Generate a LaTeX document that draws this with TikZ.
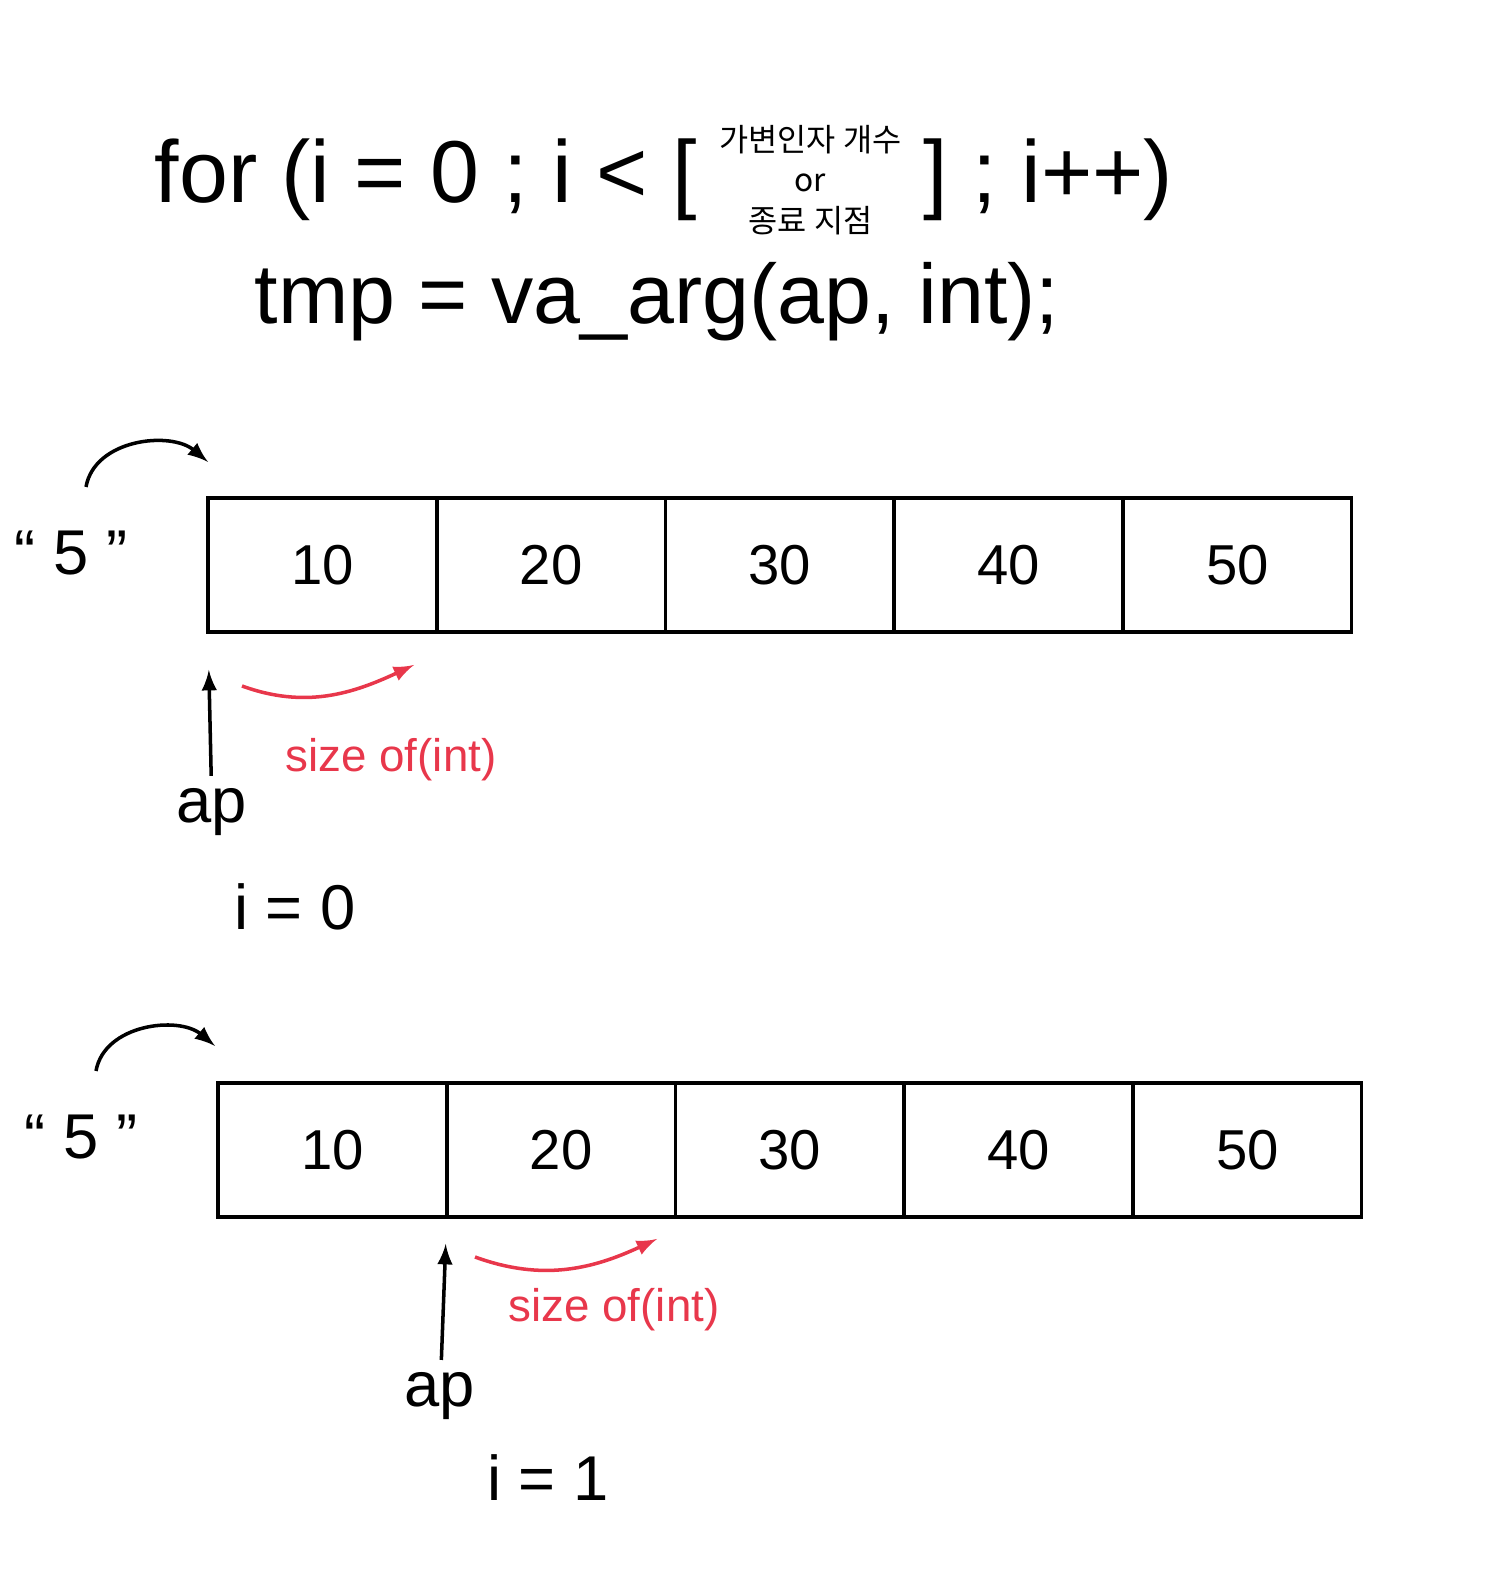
\documentclass[tikz,border=0pt]{standalone}
\usepackage{fontspec}
\setmainfont{Liberation Sans}
\newfontfamily\krfont{Noto Sans CJK KR}
\usepackage{xcolor}
\usetikzlibrary{arrows.meta,positioning}
\definecolor{penred}{HTML}{E8374B}

\begin{document}
\begin{tikzpicture}[x=0.01cm, y=0.01cm, every node/.style={align=center}, node distance=0pt]
\tikzset{
  code/.style={font=\fontsize{25}{30}\selectfont, inner sep=0pt},
  small/.style={font=\krfont\fontsize{9}{11.5}\selectfont, inner sep=0pt},
  cell/.style={draw, line width=1pt, outer sep=0pt, minimum width=2.286cm, minimum height=1.34cm, font=\fontsize{16}{19}\selectfont},
  hand/.style={font=\fontsize{18}{22}\selectfont},
  ptr/.style={-latex, line width=1pt},
  move/.style={-latex, line width=1pt, draw=penred},
  redtxt/.style={text=penred, font=\fontsize{13}{16}\selectfont}
}
\useasboundingbox (0,0) rectangle (1494,1592);
\node[code, anchor=west] (for) at (154,1412) {for (i = 0 ; i < [};
\node[small, right=6pt of for] (cnt) {가변인자 개수\\or\\종료 지점};
\node[code, right=6pt of cnt] (inc) {] ; i++)};
\node[code, anchor=west, font=\fontsize{24}{29}\selectfont] (tmp) at (254,1290) {tmp = va\_arg(ap, int);};

\node[cell, anchor=south west] (a1) at (208,960) {10};
\node[cell, right=of a1] (a2) {20};
\node[cell, right=of a2] (a3) {30};
\node[cell, right=of a3] (a4) {40};
\node[cell, right=of a4] (a5) {50};
\node[hand] (n1) at (71,1039) {“ 5 ”};
\coordinate (n1s) at (86,1105);
\coordinate (a1in) at (208,1130);
\draw[ptr] (n1s) to[out=80, in=140] (a1in);
\node[hand] (ap1) at (212,780) {ap};
\draw[ptr, shorten >=0.38cm] (ap1) -- (a1.south west);
\node[hand] (i1) at (295,685) {i = 0};
\coordinate (r1s) at (242,906);
\coordinate (r1e) at (414,927);
\draw[move] (r1s) to[out=-20, in=205] (r1e);
\node[redtxt] (sz1) at (391,832) {size of(int)};

\node[cell, anchor=south west] (b1) at (218,375) {10};
\node[cell, right=of b1] (b2) {20};
\node[cell, right=of b2] (b3) {30};
\node[cell, right=of b3] (b4) {40};
\node[cell, right=of b4] (b5) {50};
\node[hand] (n2) at (81,455) {“ 5 ”};
\coordinate (n2s) at (96,521);
\coordinate (b1in) at (215,546);
\draw[ptr] (n2s) to[out=80, in=140] (b1in);
\node[hand] (ap2) at (440,196) {ap};
\draw[ptr, shorten >=0.27cm] (ap2) -- (b2.south west);
\node[hand] (i2) at (548,114) {i = 1};
\coordinate (r2s) at (475,335);
\coordinate (r2e) at (657,353);
\draw[move] (r2s) to[out=-20, in=205] (r2e);
\node[redtxt] (sz2) at (614,282) {size of(int)};
\end{tikzpicture}
\end{document}
